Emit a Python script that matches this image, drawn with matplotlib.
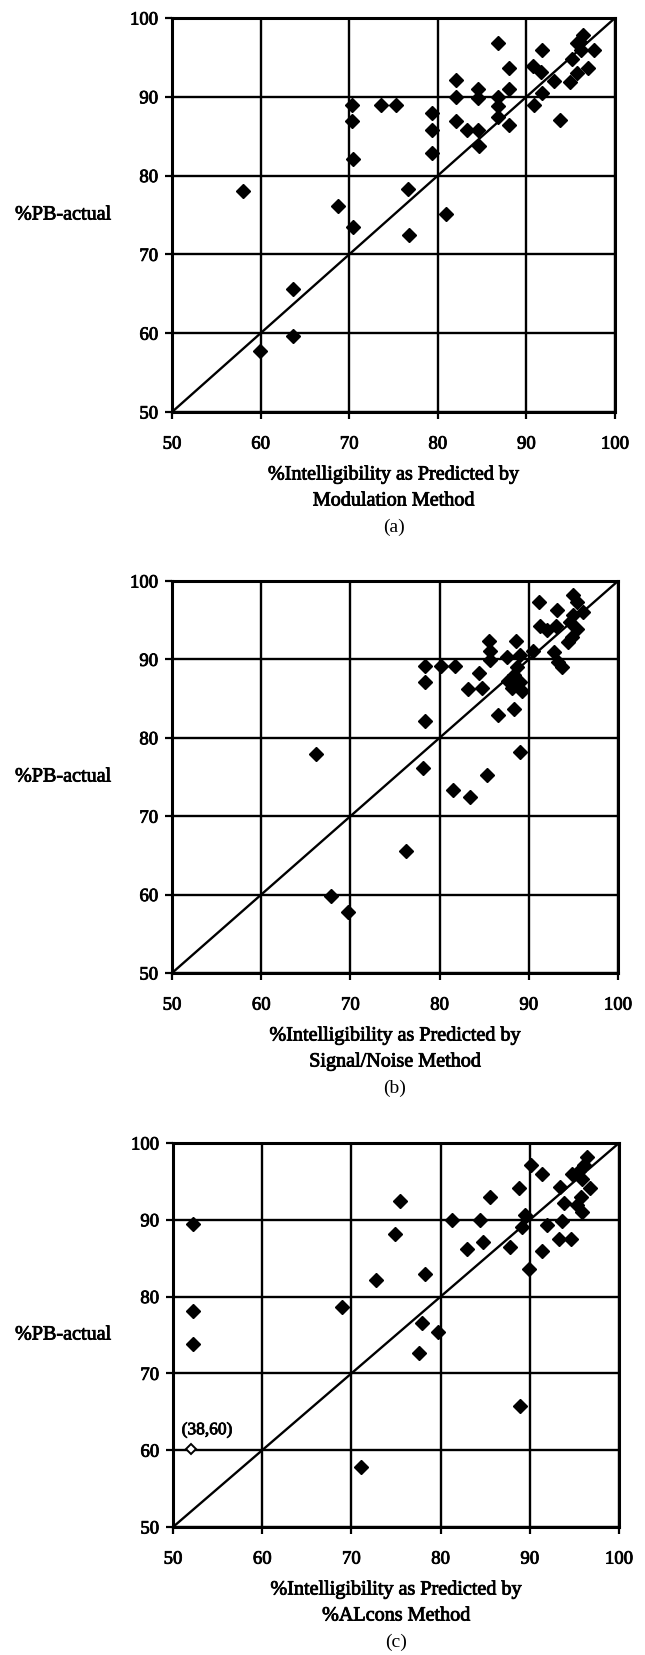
import matplotlib
matplotlib.use("Agg")
import matplotlib.pyplot as plt
import matplotlib.patheffects as pe

# ---------------- data ----------------
ticks = [50, 60, 70, 80, 90, 100]
ylabel_text = "%PB-actual"

xlabel_line1 = "%Intelligibility as Predicted by"
xlabel_line2 = ["Modulation Method", "Signal/Noise Method", "%ALcons Method"]
panel_tags = ["(a)", "(b)", "(c)"]

# panel (a) Modulation method
a_x = [58.0, 68.7, 70.4, 76.6, 76.7, 80.9, 63.7, 63.7, 59.9, 70.3, 70.3, 70.4,
       73.6, 75.3, 79.4, 79.4, 79.4, 84.7,
       86.8, 88.0, 82.1, 82.1, 84.5, 84.5, 88.0, 86.8, 86.8, 86.8, 82.1, 83.3,
       84.5, 88.0, 91.8, 90.8, 91.7, 93.1, 91.8, 90.9, 93.8, 95.1, 95.7, 96.4,
       96.2, 97.6, 97.0, 95.7, 94.9, 96.0]
a_y = [78.0, 76.2, 73.5, 78.3, 72.5, 75.1, 65.6, 59.6, 57.7, 89.0, 86.9, 82.1,
       89.0, 89.0, 88.0, 85.8, 82.9, 83.7,
       96.8, 93.7, 92.1, 90.0, 91.0, 89.8, 91.0, 90.0, 88.8, 87.5, 86.9, 85.8,
       85.8, 86.4, 96.0, 93.9, 93.1, 92.0, 90.5, 89.0, 87.1, 94.8, 96.8, 97.9,
       96.0, 96.0, 93.7, 93.0, 91.9, 97.0]

# panel (b) Signal/Noise method
b_x = [66.1, 78.1, 76.2, 67.8, 69.7, 78.4, 78.4, 78.4, 81.5, 83.4, 85.3, 89.0,
       80.2, 81.7, 85.5, 85.7, 85.7, 88.6, 87.6, 89.0, 88.7, 84.4, 84.7, 83.2,
       87.7, 88.1, 89.0, 89.2, 88.3, 86.6, 88.3, 90.5, 91.1, 93.2, 91.3, 92.0,
       93.1, 92.8, 93.3, 93.7, 95.0, 95.4, 96.1, 95.0, 94.6, 95.4, 94.8, 94.4]
b_y = [77.9, 76.1, 65.6, 59.8, 57.8, 89.2, 87.1, 82.2, 73.4, 72.4, 75.3, 78.2,
       89.15, 89.15, 92.3, 91.1, 89.9, 92.3, 90.3, 90.5, 89.0, 88.3, 86.3, 86.2,
       87.3, 86.3, 87.1, 86.0, 88.0, 82.9, 83.7, 91.1, 97.3, 96.3, 94.3, 93.7,
       94.3, 90.9, 89.7, 89.0, 98.2, 97.3, 96.0, 95.6, 94.8, 93.9, 92.8, 92.2]

# panel (c) %ALcons method
c_x = [52.2, 52.2, 52.2, 68.9, 71.1, 72.8, 74.9, 75.5, 78.3, 77.9, 77.6, 79.7,
       88.9, 81.3, 84.4, 85.5, 88.8, 90.1, 91.4, 89.5, 89.1, 83.0, 84.7, 87.8,
       91.4, 89.9, 91.9, 93.6, 93.3, 94.6, 93.4, 93.8, 94.7, 95.9, 96.4, 96.1,
       96.8, 95.7, 95.3, 95.9, 95.5]
c_y = [89.4, 78.1, 73.8, 78.7, 57.8, 82.2, 88.2, 92.4, 83.0, 76.5, 72.7, 75.4,
       65.8, 90.0, 90.0, 93.0, 94.1, 97.1, 95.9, 90.6, 89.0, 86.2, 87.1, 86.4,
       85.9, 83.6, 89.3, 89.8, 87.5, 87.5, 94.3, 92.2, 96.0, 95.3, 98.2, 97.1,
       94.1, 93.0, 91.9, 91.0, 96.4]

# open (off-scale) point in panel (c), plotted at axis edge with label
c_open_x = [52.0]
c_open_y = [60.2]
c_open_label = "(38,60)"

panels = [(a_x, a_y), (b_x, b_y), (c_x, c_y)]

# ---------------- figure ----------------
W, H = 645, 1656
fig = plt.figure(figsize=(W / 100, H / 100), dpi=100)
plt.rcParams['font.family'] = ['Liberation Serif', 'DejaVu Serif']
heavy = [pe.withStroke(linewidth=0.6, foreground='black')]

# axes boxes in pixels: left, right, top, bottom
boxes = [(172, 615, 19, 413), (172, 618, 582, 974), (173, 619, 1144, 1528)]

for i, ((xs, ys), (l, r, t, b)) in enumerate(zip(panels, boxes)):
    ax = fig.add_axes([l / W, 1 - b / H, (r - l) / W, (b - t) / H])
    ax.set_xlim(50, 100)
    ax.set_ylim(50, 100)
    ax.set_xticks(ticks)
    ax.set_yticks(ticks)
    ax.tick_params(direction='out', length=5, width=1.6, labelsize=13.5,
                   colors='black')
    ax.tick_params(axis='x', pad=12)
    ax.tick_params(axis='y', pad=5)
    for lab in ax.get_xticklabels() + ax.get_yticklabels():
        lab.set_path_effects(heavy)
    for sp in ax.spines.values():
        sp.set_linewidth(2.2)
    ax.grid(True, color='black', linewidth=1.7)
    ax.set_axisbelow(True)
    ax.plot([50, 100], [50, 100], color='black', linewidth=1.7, zorder=2)
    ax.plot(xs, ys, linestyle='none', marker='D', markersize=7.2,
            color='black', zorder=3, clip_on=False)
    if i == 2:
        ax.plot(c_open_x, c_open_y, linestyle='none', marker='D', markersize=5,
                markerfacecolor='white', markeredgecolor='black',
                markeredgewidth=1.4, zorder=4, clip_on=False)
        ax.annotate(c_open_label, xy=(c_open_x[0], c_open_y[0]),
                    xytext=(53.8, 62.6), fontsize=12.5, ha='center',
                    va='center', path_effects=heavy)

    cx = (l + r) / 2 / W
    fig.text(cx, 1 - (b + 63) / H, xlabel_line1, ha='center', va='center',
             fontsize=14.5, path_effects=heavy)
    fig.text(cx, 1 - (b + 89) / H, xlabel_line2[i], ha='center', va='center',
             fontsize=14.5, path_effects=heavy)
    fig.text(cx, 1 - (b + 114) / H, panel_tags[i], ha='center', va='center',
             fontsize=14)
    fig.text(15 / W, 1 - ((t + b) / 2) / H, ylabel_text, ha='left',
             va='center', fontsize=14.5, path_effects=heavy)

fig.savefig("out.png", dpi=100)
